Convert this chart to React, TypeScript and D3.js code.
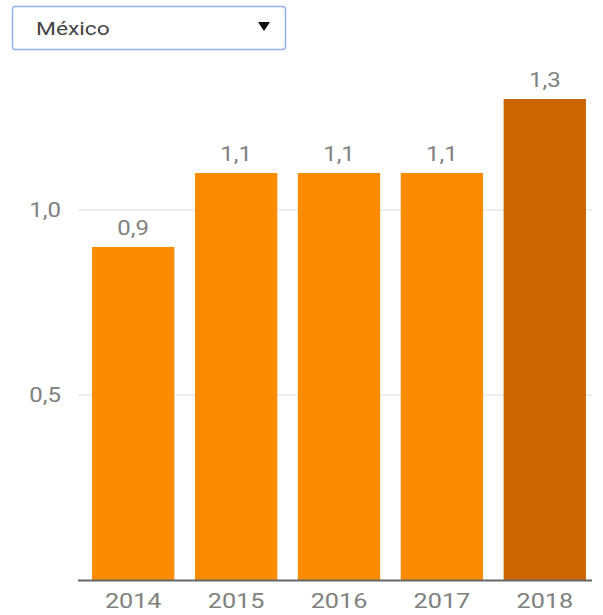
import React from "react";
import * as d3 from "d3";

const years = ["2014", "2015", "2016", "2017", "2018"];
const values = [0.9, 1.1, 1.1, 1.1, 1.3];
const yTicks = [0.5, 1.0];
const country = "México";
const highlightYear = "2018";

const W = 603;
const H = 615;
const FONT = "Roboto, 'Noto Sans', Arial, sans-serif";
const GRAY = "#808080";
const SX = 1.2;

const fmt = (v: number) => v.toFixed(1).replace(".", ",");

function SText({ x, y, anchor, size, fill, children }: any) {
  return (
    <text
      transform={`translate(${x},${y}) scale(${SX},1)`}
      textAnchor={anchor}
      fontSize={size}
      fill={fill}
      fontFamily={FONT}
    >
      {children}
    </text>
  );
}

export default function App() {
  const x = d3.scaleBand<string>().domain(years).range([81.75, 596.25]).paddingInner(0.2).paddingOuter(0.1);
  const y = d3.scaleLinear().domain([0, 1]).range([580, 210]);
  const axisX0 = 78;
  const axisX1 = 592;

  return (
    <svg
      width={W}
      height={H}
      style={{ position: "absolute", left: 0, top: 0, background: "#fff" }}
    >
      {/* dropdown */}
      <rect x={12.5} y={6.5} width={273} height={43} rx={3} fill="#fff" stroke="#8fb2ee" strokeWidth={1.5} />
      <SText x={36} y={35} anchor="start" size={19} fill="#444">
        {country}
      </SText>
      <path d="M258,22 L270,22 L264,31 Z" fill="#111" />

      {/* gridlines */}
      {yTicks.map((t) => (
        <g key={t}>
          <line x1={axisX0} x2={axisX1} y1={y(t)} y2={y(t)} stroke="#dcdcdc" strokeWidth={1} />
          <SText x={61} y={y(t) + 7} anchor="end" size={20} fill={GRAY}>
            {fmt(t)}
          </SText>
        </g>
      ))}

      {/* bars */}
      {years.map((yr, i) => (
        <g key={yr}>
          <rect
            x={x(yr)}
            y={y(values[i])}
            width={x.bandwidth()}
            height={y(0) - y(values[i])}
            fill={yr === highlightYear ? "#cc6600" : "#fb8c00"}
          />
          <SText x={(x(yr) as number) + x.bandwidth() / 2} y={y(values[i]) - 12} anchor="middle" size={20} fill={GRAY}>
            {fmt(values[i])}
          </SText>
          <SText x={(x(yr) as number) + x.bandwidth() / 2} y={608} anchor="middle" size={21} fill={GRAY}>
            {yr}
          </SText>
        </g>
      ))}

      {/* baseline */}
      <line x1={axisX0} x2={axisX1} y1={580.5} y2={580.5} stroke="#666" strokeWidth={2} />
    </svg>
  );
}
